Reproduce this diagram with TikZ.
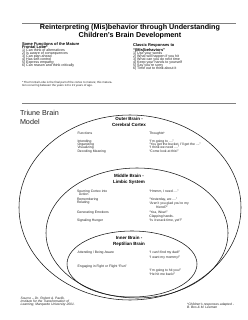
\documentclass[tikz,border=0pt]{standalone}
\usepackage{fontspec}
\setmainfont{Liberation Sans}
\newcommand\hdf{\fontsize{4}{3.1}\selectfont\bfseries\color{black}}
\begin{document}
\lineskiplimit=-9pt\relax
\begin{tikzpicture}[x=1pt,y=-1pt,
  every node/.style={inner sep=0pt,outer sep=0pt,text=black!85},
  rulel/.style={draw=black!50,line width=0.9pt},
  brain/.style={draw=black!90,line width=0.55pt},
  titletext/.style={font=\fontsize{7.2}{7.7}\selectfont\bfseries,align=center,anchor=north,text=black},
  coltext/.style={font=\fontsize{3.6}{3.05}\selectfont,align=left,anchor=north west},
  foot/.style={font=\fontsize{2.9}{3.1}\selectfont,align=left,anchor=north west},
  bhead/.style={font=\fontsize{4.5}{6}\selectfont\bfseries,align=center,anchor=north,text=black},
  btext/.style={font=\fontsize{3.4}{3.3}\selectfont,align=left,anchor=north west},
  src/.style={font=\fontsize{3.3}{3.1}\selectfont\itshape,align=left,anchor=north west},
]
\useasboundingbox (0,0) rectangle (247,320);
\fill[white] (0,0) rectangle (247,320);

% rules
\coordinate (r1a) at (22,23);
\coordinate (r1b) at (236,23);
\coordinate (r2a) at (22,103);
\coordinate (r2b) at (236,103);
\draw[rulel] (r1a) -- (r1b);
\draw[rulel] (r2a) -- (r2b);

% title
\node[titletext] (title) at (130,24.2) {Reinterpreting (Mis)behavior through Understanding\\Children’s Brain Development};

% left column
\node[coltext] (frontal) at (22,42.2) {{\hdf Some Functions of the Mature}\\{\hdf Frontal Lobe*}\\1) Can think of alternatives\\2) Is aware of consequences\\3) Can plan ahead\\4) Has self-control\\5) Express empathy\\6) Can reason and think critically};

% right column
\node[coltext] (classic) at (133,43.2) {{\hdf Classic Responses to}\\[2.3pt]{\hdf “(Mis)behaviors”}\\1) Use your words\\2) What will happen if you hit\\3) What can you do next time\\4) Keep your hands to yourself\\5) Say you’re sorry\\6) Time out to think about it};

% footnote
\node[foot] (footnote) at (22,80.9) {* The Frontal Lobe is the final part of the cortex to mature; this matura-\\tion occurring between the years 14 to 21 years of age.};

% triune
\node[font=\fontsize{7.2}{9}\selectfont,align=left,anchor=north west] (triune) at (20,110.6) {Triune Brain\\Model};

% ellipses
\draw[brain] (130,207.5) ellipse [x radius=111pt, y radius=92.5pt];
\draw[brain] (137,233) ellipse [x radius=91pt, y radius=65pt];
\draw[brain] (132,264) ellipse [x radius=65pt, y radius=33pt];

% outer brain
\node[bhead] (outerh) at (129,117.3) {Outer Brain -\\Cerebral Cortex};
\node[btext] (outerf) at (77.5,132.1) {Functions};
\node[btext] (outert) at (149.3,132.1) {Thoughts*};
\node[btext] (outerl) at (77.5,139.8) {Intending\\Organizing\\Visualizing\\Decoding Meaning};
\node[btext] (outerr) at (149.3,139.8) {“I’m going to ....”\\“You get the bucket, I’ll get the ....”\\“I think we need ....”\\“Come look at this!”};

% middle brain
\node[bhead] (midh) at (129,174) {Middle Brain -\\Limbic System};
\node[btext] (midl) at (77,189.8) {Spurring Cortex into\\\hspace*{2pt}Action\\[1.7pt]Remembering\\Relating\\[6.4pt]Generating Emotions\\[5.1pt]Signaling Hunger};
\node[btext] (midr) at (149.3,189.8) {“Hmmm, I need ....”\\[5pt]“Yesterday, we ....”\\[1.1pt]“Aren’t you glad you’re my\\[0.7pt]\hspace*{7pt}friend?”\\[1.3pt]“Yea, Wow!”\\[0.4pt]Clapping hands.\\[1.4pt]“Is it snack time, yet?”};

% inner brain
\node[bhead] (innh) at (129,236.3) {Inner Brain -\\Reptilian Brain};
\node[btext] (innl) at (77.7,251.5) {Attending / Being Aware\\[10.7pt]Engaging in Fight or Flight “Run”};
\node[btext] (innr) at (149.3,251.5) {“I can’t find my dad!”\\[1.3pt]“I want my mommy!”\\[9.7pt]“I’m going to hit you!”\\[0.7pt]“He hit me back!”};

% sources
\node[src] (source) at (20.7,297.1) {Source – Dr. Robert A. Pavlik,\\Institute for the Transformation of\\Learning, Marquette University 2001.};
\node[src] (adapted) at (187,303.2) {*Children’s responses adapted -\\B. Bos \& M. Leeman};
\end{tikzpicture}
\end{document}
